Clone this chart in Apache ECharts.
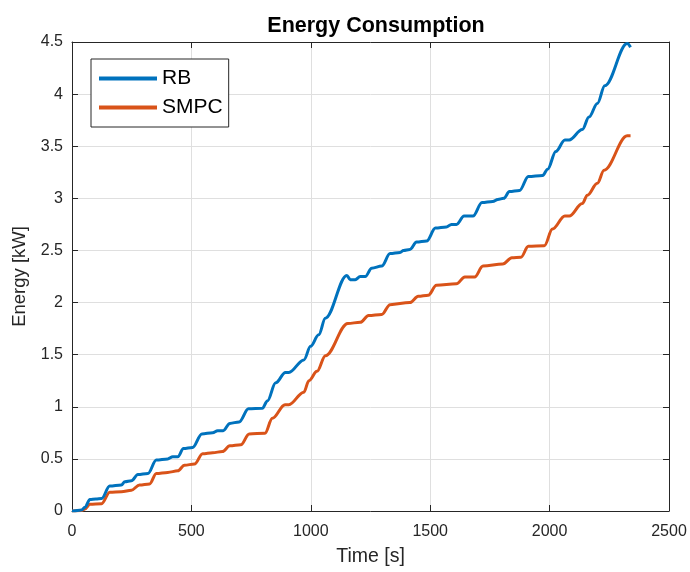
<!DOCTYPE html>
<html>
<head>
<meta charset="utf-8">
<script src="https://cdn.jsdelivr.net/npm/echarts@6/dist/echarts.min.js"></script>
<style>html,body{margin:0;padding:0;background:#fff}#c{width:690px;height:572px}</style>
</head>
<body>
<div id="c"></div>
<script>
const rbTime = [0,5,40,54,75,100,124,158,207,221,249,276,318,353,401,422,443,467,505,544,589,610,633,661,700,739,797,818,853,894,908,971,999,1033,1061,1151,1165,1186,1207,1228,1255,1297,1332,1374,1388,1415,1443,1485,1522,1568,1589,1610,1642,1679,1717,1762,1783,1808,1832,1874,1911,1971,1992,2026,2064,2082,2137,2165,2200,2231,2325,2339];
const rbEnergy = [0,0,0.01,0.035,0.11,0.115,0.12,0.24,0.25,0.28,0.29,0.35,0.36,0.49,0.50,0.52,0.52,0.60,0.61,0.74,0.75,0.77,0.77,0.84,0.855,0.98,0.985,1.055,1.23,1.33,1.33,1.45,1.58,1.69,1.85,2.26,2.22,2.22,2.25,2.25,2.33,2.35,2.47,2.48,2.50,2.51,2.58,2.59,2.715,2.725,2.75,2.75,2.83,2.83,2.96,2.97,2.99,3.00,3.065,3.075,3.21,3.22,3.28,3.45,3.56,3.56,3.66,3.78,3.91,4.08,4.485,4.45];
const smpcTime = [0,5,40,54,75,124,158,207,249,283,325,353,401,443,471,513,547,589,630,661,707,742,808,839,892,908,971,992,1026,1061,1155,1207,1242,1297,1332,1415,1450,1492,1526,1610,1645,1686,1721,1804,1842,1880,1911,1978,2012,2064,2082,2137,2158,2200,2228,2325,2339];
const smpcEnergy = [0,0,0.005,0.02,0.065,0.07,0.18,0.185,0.20,0.25,0.26,0.36,0.37,0.385,0.44,0.45,0.55,0.56,0.57,0.625,0.635,0.74,0.745,0.89,1.02,1.02,1.14,1.25,1.34,1.49,1.80,1.81,1.875,1.885,1.98,2.00,2.06,2.07,2.165,2.18,2.245,2.245,2.35,2.37,2.43,2.435,2.54,2.545,2.705,2.83,2.83,2.95,3.03,3.145,3.27,3.60,3.60];
const seriesNames = ['RB','SMPC'];
const titleText = 'Energy Consumption';
const xTitle = 'Time [s]';
const yTitle = 'Energy [kW]';

const zip = (a,b) => a.map((v,i)=>[v,b[i]]);
const font = 'Liberation Sans, Arial, Helvetica, sans-serif';
const dark = '#262626';
const chart = echarts.init(document.getElementById('c'));
const axisBase = {
  axisLine:{show:true,onZero:false,lineStyle:{color:dark,width:1}},
  axisTick:{show:true,inside:true,length:6,lineStyle:{color:dark}},
  splitLine:{show:false},
  axisLabel:{show:false}
};
chart.setOption({
  animation:false,
  backgroundColor:'#fff',
  title:{text:titleText,left:371,top:10,textAlign:'center',textStyle:{fontFamily:font,fontSize:21.5,fontWeight:'bold',color:'#000'}},
  grid:{left:72,right:21,top:42,bottom:60},
  legend:{
    orient:'vertical',left:91,top:59,
    data:seriesNames.map(n=>({name:n,icon:'rect'})),
    backgroundColor:'#fff',borderColor:dark,borderWidth:1,
    padding:[9,6,9,8],itemGap:8,itemWidth:58,itemHeight:4,
    textStyle:{fontFamily:font,fontSize:21,color:'#000'}
  },
  xAxis:[{
    type:'value',min:0,max:2500,interval:500,
    name:xTitle,nameLocation:'middle',nameGap:36,
    nameTextStyle:{fontFamily:font,fontSize:19.5,color:dark},
    axisLine:{show:true,onZero:false,lineStyle:{color:dark}},
    axisTick:{show:true,inside:true,length:6,lineStyle:{color:dark}},
    axisLabel:{fontFamily:font,fontSize:16,color:dark,margin:13,formatter:v=>String(v)},
    splitLine:{show:true,lineStyle:{color:'#dfdfdf',width:1}}
  },Object.assign({type:'value',min:0,max:2500,interval:500,position:'top'},axisBase)],
  yAxis:[{
    type:'value',min:0,max:4.5,interval:0.5,
    name:yTitle,nameLocation:'middle',nameGap:40,
    nameTextStyle:{fontFamily:font,fontSize:18.5,color:dark},
    axisLine:{show:true,onZero:false,lineStyle:{color:dark}},
    axisTick:{show:true,inside:true,length:6,lineStyle:{color:dark}},
    axisLabel:{fontFamily:font,fontSize:16,color:dark,margin:9,formatter:v=>String(+v.toFixed(1))},
    splitLine:{show:true,lineStyle:{color:'#dfdfdf',width:1}}
  },Object.assign({type:'value',min:0,max:4.5,interval:0.5,position:'right'},axisBase)],
  series:[
    {name:seriesNames[0],type:'line',data:zip(rbTime,rbEnergy),symbol:'none',smooth:0.35,smoothMonotone:'x',lineStyle:{color:'#0072BD',width:3},itemStyle:{color:'#0072BD'},z:3},
    {name:seriesNames[1],type:'line',data:zip(smpcTime,smpcEnergy),symbol:'none',smooth:0.35,smoothMonotone:'x',lineStyle:{color:'#D95319',width:3},itemStyle:{color:'#D95319'},z:2}
  ]
});
</script>
</body>
</html>
